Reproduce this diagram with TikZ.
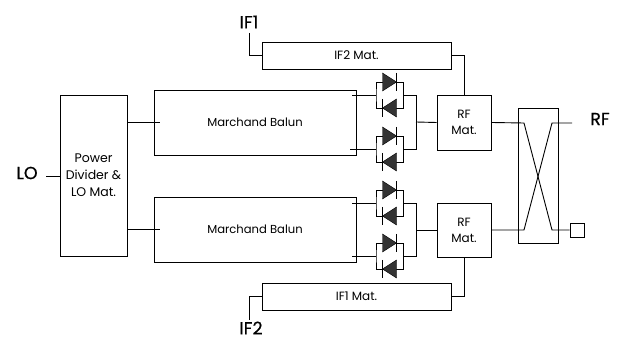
\documentclass[tikz,border=0pt]{standalone}
\usepackage{fontspec}
\setmainfont{Poppins}
\newfontfamily\portfont[FakeBold=0.5]{Poppins}
\usetikzlibrary{positioning}
\tikzset{
    box/.style={
        rectangle, draw, line width=0.9pt, align=center, inner sep=0pt
    },
    wire/.style={
        line width=0.9pt
    },
    portlabel/.style={
        font=\fontsize{17.5}{17.5}\selectfont\portfont, inner sep=0pt
    },
    smalltext/.style={
        font=\fontsize{12}{16}\selectfont
    },
    diodes/.pic={
        \coordinate (-in) at (-13.5,0);
        \coordinate (-out) at (13.5,0);
        \draw[wire] (-13.5,0) |- (13.5,-13) -- (13.5,13) -- (-13.5,13) -- cycle;
        \fill[black!80, draw=black] (-7,-22) -- (7,-13) -- (-7,-4) -- cycle;
        \draw[wire] (7,-22) -- (7,-4);
        \fill[black!80, draw=black] (7,4) -- (-7,13) -- (7,22) -- cycle;
        \draw[wire] (-7,4) -- (-7,22);
    }
}

\begin{document}
\begin{tikzpicture}[x=1pt, y=-1pt]
        \useasboundingbox (0,0) rectangle (619,339);

        % Local oscillator side

        \node[box, minimum width=67pt, minimum height=161pt, font=\fontsize{12.5}{17}\selectfont] (divider) at (93.5,175.5) {Power\\Divider \&\\LO Mat.};
        \node[portlabel] (lo) at (27,173) {LO};
        \coordinate (lostub) at (46,176);

        \draw[wire] (lostub) -- (lostub -| divider.west);

        % Baluns

        \node[box, minimum width=202pt, minimum height=65pt, font=\fontsize{11.6}{13}\selectfont] (upperbalun) at (255,122.5) {Marchand Balun};
        \node[box, minimum width=202pt, minimum height=65pt, font=\fontsize{11.6}{13}\selectfont] (lowerbalun) at (255,229.5) {Marchand Balun};

        \coordinate (upperfeed) at (160,122);
        \coordinate (lowerfeed) at (160,229);

        \draw[wire] (divider.east |- upperfeed) -- (upperfeed);
        \draw[wire] (divider.east |- lowerfeed) -- (lowerfeed);

        % Diode pairs

        \pic (quada) at (389.5,95) {diodes};
        \pic (quadb) at (389.5,149) {diodes};
        \pic (quadc) at (389.5,203) {diodes};
        \pic (quadd) at (389.5,256) {diodes};

        \coordinate (stuba) at (352,95);
        \coordinate (stubb) at (350,149);
        \coordinate (stubc) at (352,203);
        \coordinate (stubd) at (352,256);

        \draw[wire] (stuba) -- (quada-in);
        \draw[wire] (stubb) -- (quadb-in);
        \draw[wire] (stubc) -- (quadc-in);
        \draw[wire] (stubd) -- (quadd-in);

        % RF and IF matching

        \node[box, minimum width=54pt, minimum height=55pt, smalltext] (upperrf) at (464,122.5) {RF\\Mat.};
        \node[box, minimum width=54pt, minimum height=54pt, smalltext] (lowerrf) at (464,230) {RF\\Mat.};
        \node[box, minimum width=189pt, minimum height=27pt, smalltext] (ifupper) at (356.5,55.5) {IF2 Mat.};
        \node[box, minimum width=189pt, minimum height=27pt, smalltext] (iflower) at (356.5,296.5) {IF1 Mat.};

        \coordinate (busa) at (416,95);
        \coordinate (busb) at (416,149);
        \coordinate (busc) at (416,203);
        \coordinate (busd) at (416,256);
        \coordinate (busupper) at (416,122);
        \coordinate (buslower) at (416,230);

        \draw[wire] (quada-out) -- (busa) -- (busb) -- (quadb-out);
        \draw[wire] (quadc-out) -- (busc) -- (busd) -- (quadd-out);
        \draw[wire] (busupper) -- (upperrf.west);
        \draw[wire] (buslower) -- (lowerrf.west);

        \draw[wire] (ifupper.east) -| (upperrf.north);
        \draw[wire] (iflower.east) -| (lowerrf.south);

        \node[portlabel] (ifone) at (249,22) {IF1};
        \node[portlabel] (iftwo) at (251,328) {IF2};
        \coordinate (ifonestub) at (249,33);
        \coordinate (iftwostub) at (249,320);

        \draw[wire] (ifonestub) |- (ifupper.west);
        \draw[wire] (iftwostub) |- (iflower.west);

        % Hybrid coupler

        \node[box, minimum width=40pt, minimum height=135pt] (hybrid) at (538,175.5) {};
        \node[box, minimum width=14pt, minimum height=14pt] (load) at (577,230) {};
        \node[portlabel] (rf) at (600,119) {RF};
        \coordinate (rfstub) at (572,123);
        \coordinate (crossa) at (524,123);
        \coordinate (crossb) at (552,230);
        \coordinate (crossc) at (524,230);
        \coordinate (crossd) at (552,123);

        \draw[wire] (upperrf.east) -- (crossa) -- (crossb) -- (load.west);
        \draw[wire] (lowerrf.east) -- (crossc) -- (crossd) -- (rfstub);
\end{tikzpicture}
\end{document}
